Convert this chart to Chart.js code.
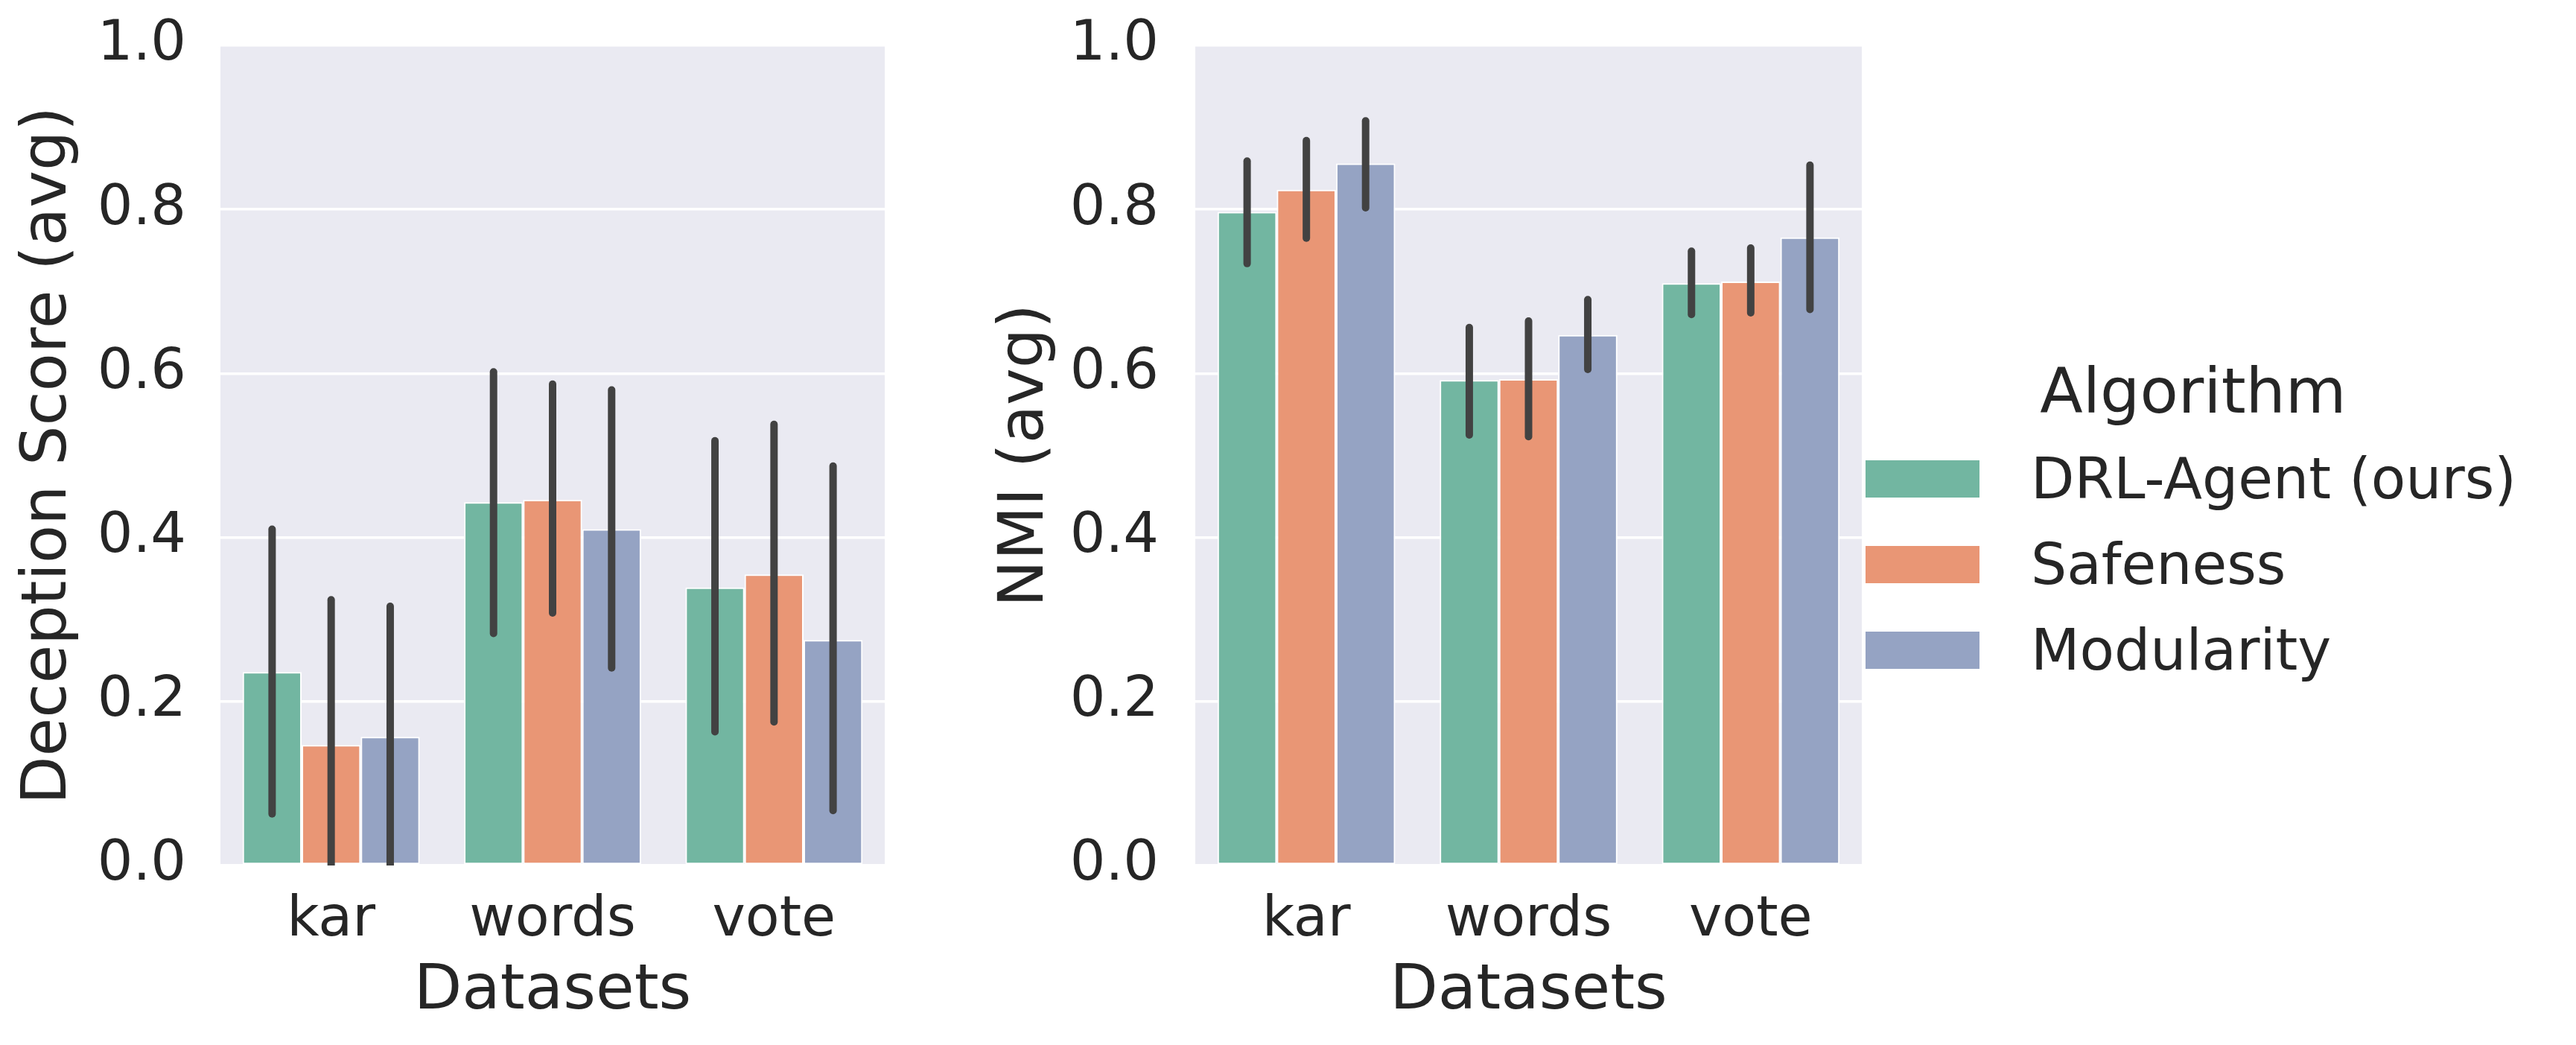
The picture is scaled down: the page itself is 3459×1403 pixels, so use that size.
<!DOCTYPE html>
<html>
<head>
<meta charset="utf-8">
<title>Deception Score and NMI per dataset</title>
<script src="https://cdn.jsdelivr.net/npm/chart.js@4.4.1/dist/chart.umd.min.js"></script>
<style>
  body { margin: 0; background: #ffffff; }
  #deceptionChart { position: absolute; left: 0; top: 0; }
  #nmiChart { position: absolute; left: 1300px; top: 0; }
  #legend {
    position: absolute; left: 2505px; top: 483px;
    font-family: 'DejaVu Sans', sans-serif; color: #262626;
  }
  #legendTitle { font-size: 84px; line-height: 1; width: 880px; text-align: center; }
  #legendItems { position: absolute; left: 0; top: 102px; }
  .legend-row { display: flex; align-items: center; height: 115px; font-size: 76px; line-height: 1; white-space: nowrap; }
  .legend-box { flex: none; width: 153px; height: 50px; margin-right: 69px; }
</style>
</head>
<body>
<canvas id="deceptionChart" width="1188" height="1403"></canvas>
<canvas id="nmiChart" width="1200" height="1403"></canvas>
<div id="legend">
  <div id="legendTitle"></div>
  <div id="legendItems"></div>
</div>
<script>
// Data
const categories = ['kar', 'words', 'vote'];
const algorithms = ['DRL-Agent (ours)', 'Safeness', 'Modularity'];
const legendTitle = 'Algorithm';
const barColors = ['#72b6a1', '#e99675', '#95a3c3'];
const yTicks = [0.0, 0.2, 0.4, 0.6, 0.8, 1.0];

// Deception score (avg) with error bar ends
const deceptionDRL = [0.236, 0.443, 0.339];
const deceptionDRLLow = [0.063, 0.283, 0.163];
const deceptionDRLHigh = [0.410, 0.602, 0.518];
const deceptionSafeness = [0.147, 0.446, 0.355];
const deceptionSafenessLow = [0.0, 0.308, 0.175];
const deceptionSafenessHigh = [0.324, 0.587, 0.538];
const deceptionModularity = [0.157, 0.410, 0.275];
const deceptionModularityLow = [0.0, 0.241, 0.067];
const deceptionModularityHigh = [0.316, 0.580, 0.487];

// NMI (avg) with error bar ends
const nmiDRL = [0.797, 0.592, 0.710];
const nmiDRLLow = [0.734, 0.525, 0.672];
const nmiDRLHigh = [0.859, 0.656, 0.749];
const nmiSafeness = [0.824, 0.593, 0.712];
const nmiSafenessLow = [0.765, 0.523, 0.674];
const nmiSafenessHigh = [0.884, 0.664, 0.753];
const nmiModularity = [0.856, 0.647, 0.766];
const nmiModularityLow = [0.802, 0.605, 0.678];
const nmiModularityHigh = [0.908, 0.690, 0.854];

const textColor = '#262626';
Chart.defaults.font.family = "'DejaVu Sans', sans-serif";
Chart.defaults.color = textColor;

// Grey panel behind the bars
const plotBackground = {
  id: 'plotBackground',
  beforeDraw(chart) {
    const {ctx, chartArea} = chart;
    ctx.save();
    ctx.fillStyle = '#eaeaf2';
    ctx.fillRect(chartArea.left, chartArea.top, chartArea.right - chartArea.left, chartArea.bottom - chartArea.top);
    ctx.restore();
  }
};

// Vertical error bars centred on each bar
const errorBars = {
  id: 'errorBars',
  afterDatasetsDraw(chart) {
    const {ctx, chartArea, scales: {y}} = chart;
    ctx.save();
    ctx.beginPath();
    ctx.rect(chartArea.left, chartArea.top, chartArea.right - chartArea.left, chartArea.bottom - chartArea.top);
    ctx.clip();
    ctx.strokeStyle = '#424242';
    ctx.lineWidth = 10;
    ctx.lineCap = 'round';
    chart.data.datasets.forEach((ds, i) => {
      chart.getDatasetMeta(i).data.forEach((bar, j) => {
        ctx.beginPath();
        ctx.moveTo(bar.x, y.getPixelForValue(ds.errLow[j]));
        ctx.lineTo(bar.x, y.getPixelForValue(ds.errHigh[j]));
        ctx.stroke();
      });
    });
    ctx.restore();
  }
};

// Legend outside the plot, built from the chart's own legend items
const htmlLegend = {
  id: 'htmlLegend',
  afterUpdate(chart) {
    document.getElementById('legendTitle').textContent = legendTitle;
    const list = document.getElementById('legendItems');
    list.innerHTML = '';
    chart.options.plugins.legend.labels.generateLabels(chart).forEach((item) => {
      const row = document.createElement('div');
      row.className = 'legend-row';
      const box = document.createElement('span');
      box.className = 'legend-box';
      box.style.background = item.fillStyle;
      const label = document.createElement('span');
      label.textContent = item.text;
      row.appendChild(box);
      row.appendChild(label);
      list.appendChild(row);
    });
  }
};

function makeChart(canvasId, yTitle, series, opts) {
  const datasets = algorithms.map((name, k) => ({
    label: name,
    data: series[k][0],
    errLow: series[k][1],
    errHigh: series[k][2],
    backgroundColor: barColors[k],
    borderColor: '#ffffff',
    borderWidth: 2,
    borderSkipped: false,
    categoryPercentage: 0.8,
    barPercentage: 1.0
  }));

  return new Chart(document.getElementById(canvasId), {
    type: 'bar',
    data: { labels: categories, datasets },
    options: {
      responsive: false,
      animation: false,
      layout: { padding: 0 },
      plugins: {
        tooltip: { enabled: false },
        legend: { display: false }
      },
      scales: {
        x: {
          grid: { display: false, drawTicks: false },
          border: { display: false },
          ticks: { color: textColor, font: { size: 75 }, padding: 30 },
          title: {
            display: true,
            text: 'Datasets',
            color: textColor,
            font: { size: 84 },
            padding: { top: 0, bottom: 20 }
          },
          afterFit(scale) { scale.height = 241; }
        },
        y: {
          min: 0,
          max: 1,
          grid: { color: '#ffffff', lineWidth: 3.5, drawTicks: false },
          border: { display: false },
          ticks: {
            color: textColor,
            font: { size: 75 },
            padding: opts.tickPad,
            callback: (v) => Number(v).toFixed(1)
          },
          title: {
            display: true,
            text: yTitle,
            color: textColor,
            font: { size: 84 },
            padding: { top: opts.titlePad, bottom: 0 }
          },
          afterBuildTicks(scale) { scale.ticks = yTicks.map(v => ({ value: v })); },
          afterFit(scale) {
            scale.width = opts.yWidth;
            scale.paddingTop = 61;
          }
        }
      }
    },
    plugins: [plotBackground, errorBars].concat(opts.extraPlugins || [])
  });
}

makeChart('deceptionChart', 'Deception Score (avg)', [
  [deceptionDRL, deceptionDRLLow, deceptionDRLHigh],
  [deceptionSafeness, deceptionSafenessLow, deceptionSafenessHigh],
  [deceptionModularity, deceptionModularityLow, deceptionModularityHigh]
], { yWidth: 296, tickPad: 46, titlePad: 16 });

makeChart('nmiChart', 'NMI (avg)', [
  [nmiDRL, nmiDRLLow, nmiDRLHigh],
  [nmiSafeness, nmiSafenessLow, nmiSafenessHigh],
  [nmiModularity, nmiModularityLow, nmiModularityHigh]
], { yWidth: 305, tickPad: 49, titlePad: 28, extraPlugins: [htmlLegend] });
</script>
</body>
</html>
